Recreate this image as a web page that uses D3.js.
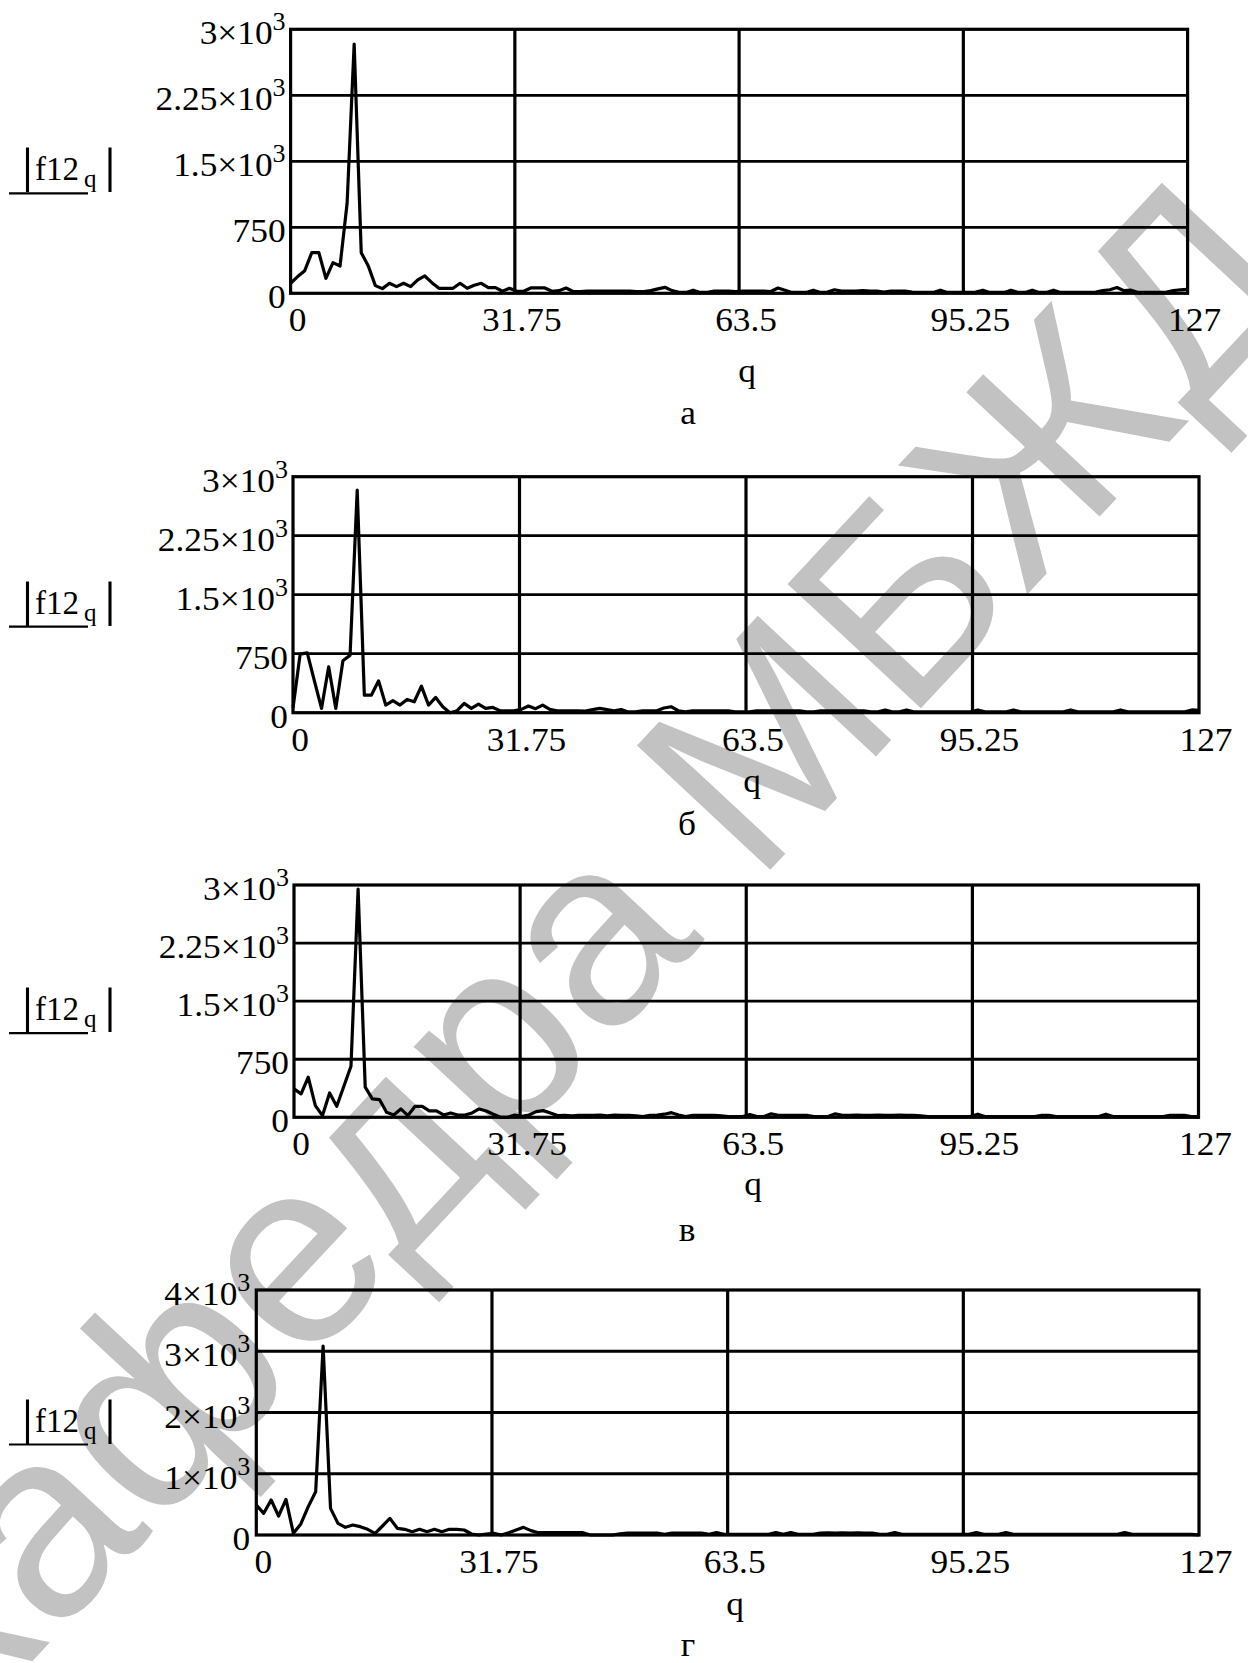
<!DOCTYPE html>
<html><head><meta charset="utf-8">
<script src="https://cdn.jsdelivr.net/npm/d3@7"></script>
<style>body{margin:0;background:#fff;} svg{display:block;}</style>
</head><body>
<svg id="c" width="1248" height="1663"></svg>
<script>
// ---------- data ----------
const qIndex = d3.range(128);
const xTicks = [0, 31.75, 63.5, 95.25, 127];
const xTickLabels = ["0", "31.75", "63.5", "95.25", "127"];
const yTicks3 = [0, 750, 1500, 2250, 3000];
const yTickLabels3 = [["0", ""], ["750", ""], ["1.5×10", "3"], ["2.25×10", "3"], ["3×10", "3"]];
const yTicks4 = [0, 1000, 2000, 3000, 4000];
const yTickLabels4 = [["0", ""], ["1×10", "3"], ["2×10", "3"], ["3×10", "3"], ["4×10", "3"]];
const captions = ["а", "б", "в", "г"];
const xTitle = "q";
const yTitleMain = "f12";
const yTitleSub = "q";

const seriesA = [
  114, 190, 257, 462, 462, 170, 348, 310, 1023, 2833,
  462, 310, 87, 53, 114, 76, 114, 76, 152, 197,
  121, 57, 57, 57, 114, 57, 91, 114, 64, 64,
  23, 57, 23, 23, 61, 61, 61, 23, 30, 60,
  20, 20, 25, 25, 25, 25, 25, 25, 25, 20,
  20, 30, 50, 68, 30, 10, 10, 35, 10, 10,
  25, 25, 25, 20, 25, 25, 25, 25, 20, 60,
  35, 10, 10, 10, 35, 10, 15, 40, 25, 25,
  25, 30, 25, 25, 15, 25, 25, 25, 15, 10,
  10, 10, 35, 10, 10, 10, 10, 15, 35, 10,
  10, 10, 35, 10, 10, 35, 10, 10, 35, 10,
  10, 10, 10, 10, 15, 30, 40, 65, 30, 35,
  10, 10, 10, 10, 15, 30, 40, 45];

const seriesB = [
  60, 744, 760, 405, 55, 583, 55, 659, 731, 2830,
  224, 224, 405, 97, 152, 97, 169, 139, 338, 97,
  194, 76, 0, 25, 118, 55, 110, 55, 68, 25,
  25, 25, 42, 85, 51, 97, 42, 25, 25, 25,
  25, 20, 40, 55, 40, 25, 40, 10, 10, 25,
  25, 25, 60, 76, 25, 10, 25, 25, 25, 25,
  25, 25, 10, 10, 10, 25, 25, 25, 25, 25,
  25, 25, 10, 10, 25, 25, 25, 25, 25, 25,
  25, 10, 10, 35, 10, 10, 35, 10, 10, 10,
  10, 10, 10, 10, 10, 10, 35, 10, 10, 10,
  10, 35, 10, 10, 10, 10, 10, 10, 10, 35,
  10, 10, 10, 10, 10, 10, 35, 10, 10, 10,
  10, 10, 10, 10, 10, 10, 35, 30];

const seriesC = [
  367, 302, 518, 151, 22, 315, 142, 401, 660, 2948,
  389, 237, 229, 65, 30, 108, 22, 142, 142, 82,
  82, 30, 56, 30, 30, 56, 108, 82, 39, 0,
  0, 30, 13, 30, 73, 86, 56, 22, 25, 20,
  25, 25, 25, 30, 20, 30, 25, 25, 20, 10,
  25, 30, 40, 60, 30, 10, 25, 25, 25, 25,
  20, 10, 10, 10, 35, 10, 10, 45, 25, 25,
  25, 25, 25, 10, 10, 10, 45, 25, 25, 30,
  25, 25, 30, 25, 25, 30, 25, 25, 20, 10,
  10, 10, 10, 10, 10, 10, 40, 10, 10, 10,
  10, 10, 10, 10, 10, 25, 25, 10, 10, 10,
  10, 10, 10, 10, 40, 10, 10, 10, 10, 10,
  10, 10, 10, 25, 25, 25, 10, 10];

const seriesD = [
  490, 354, 571, 310, 582, 27, 180, 463, 707, 3086,
  435, 190, 125, 163, 136, 93, 27, 147, 272, 109,
  93, 54, 93, 54, 93, 54, 93, 93, 82, 16,
  0, 16, 27, 0, 38, 82, 125, 71, 38, 38,
  38, 38, 38, 38, 38, 0, 0, 0, 0, 20,
  30, 30, 30, 30, 30, 10, 30, 30, 30, 30,
  30, 10, 40, 10, 10, 10, 10, 10, 10, 10,
  40, 10, 40, 10, 10, 10, 30, 35, 30, 35,
  30, 35, 30, 30, 10, 10, 40, 10, 10, 10,
  10, 10, 10, 10, 10, 10, 10, 40, 10, 10,
  10, 40, 10, 10, 10, 10, 10, 10, 10, 10,
  10, 10, 10, 10, 10, 10, 10, 40, 10, 10,
  10, 10, 10, 10, 10, 10, 10, 0];

const watermarkText = "кафедра МБЖД";

// ---------- layout ----------
const panels = [
  {values: seriesA, ymax: 3000, ticks: yTicks3, labels: yTickLabels3, caption: captions[0],
   box: {l: 290.6, t: 29.3, r: 1187.6, b: 293.3}, qPos: [747, 382], capPos: [688, 424]},
  {values: seriesB, ymax: 3000, ticks: yTicks3, labels: yTickLabels3, caption: captions[1],
   box: {l: 293, t: 476.7, r: 1199, b: 712.7}, qPos: [752, 792], capPos: [687, 835]},
  {values: seriesC, ymax: 3000, ticks: yTicks3, labels: yTickLabels3, caption: captions[2],
   box: {l: 294, t: 885, r: 1198.5, b: 1117.3}, qPos: [753, 1195], capPos: [687, 1241]},
  {values: seriesD, ymax: 4000, ticks: yTicks4, labels: yTickLabels4, caption: captions[3],
   box: {l: 256.3, t: 1290, r: 1199, b: 1535}, qPos: [735, 1615], capPos: [688, 1656]}
];

const FONT = "'Liberation Serif', 'Times New Roman', serif";
const SX = 1.04;
const svg = d3.select("#c");

// watermark (behind everything)
svg.append("text")
  .attr("transform", "translate(-30,1728) rotate(-47)")
  .attr("font-family", "'Liberation Sans', Arial, sans-serif")
  .attr("font-size", 265)
  .attr("fill", "#c2c2c2")
  .text(watermarkText);

function txt(g, x, y, s, size, anchor, sx) {
  return g.append("text")
    .attr("transform", `translate(${x},${y}) scale(${sx || SX},1)`)
    .attr("font-family", FONT)
    .attr("font-size", size)
    .attr("text-anchor", anchor || "middle")
    .attr("fill", "#000")
    .text(s);
}

panels.forEach(p => {
  const g = svg.append("g");
  const x = d3.scaleLinear().domain([0, 127]).range([p.box.l, p.box.r]);
  const y = d3.scaleLinear().domain([0, p.ymax]).range([p.box.b, p.box.t]);

  // horizontal grid
  g.selectAll(null).data(p.ticks.slice(1, -1)).enter().append("line")
    .attr("x1", p.box.l).attr("x2", p.box.r)
    .attr("y1", d => y(d)).attr("y2", d => y(d))
    .attr("stroke", "#000").attr("stroke-width", 2.8);
  // vertical grid
  g.selectAll(null).data(xTicks.slice(1, -1)).enter().append("line")
    .attr("y1", p.box.t).attr("y2", p.box.b)
    .attr("x1", d => x(d)).attr("x2", d => x(d))
    .attr("stroke", "#000").attr("stroke-width", 3.2);
  // frame
  g.append("rect")
    .attr("x", p.box.l).attr("y", p.box.t)
    .attr("width", p.box.r - p.box.l).attr("height", p.box.b - p.box.t)
    .attr("fill", "none").attr("stroke", "#000").attr("stroke-width", 3.2);

  // data line
  const line = d3.line().x((d, i) => x(qIndex[i])).y(d => y(d));
  g.append("path").datum(p.values)
    .attr("d", line)
    .attr("fill", "none").attr("stroke", "#000")
    .attr("stroke-width", 3.2).attr("stroke-linejoin", "round");

  // x tick labels
  xTicks.forEach((t, i) => txt(g, x(t) + 7, p.box.b + 38, xTickLabels[i], 34, "middle"));

  // y tick labels
  const yOff = p.ymax === 4000 ? 6 : 5;
  p.ticks.forEach((t, i) => {
    const [main, sup] = p.labels[i];
    const el = g.append("text")
      .attr("transform", `translate(${p.box.l - yOff},${y(t) + 15}) scale(${SX},1)`)
      .attr("font-family", FONT).attr("font-size", 34)
      .attr("text-anchor", "end").attr("fill", "#000");
    el.append("tspan").text(main);
    if (sup) el.append("tspan").attr("font-size", 25).attr("dy", -14).text(sup);
  });

  // y title |f12_q|
  const cy = (p.box.t + p.box.b) / 2;
  txt(g, 27.5, cy + 21, "|", 48, "middle", 1.3);
  txt(g, 35, cy + 19, yTitleMain, 33, "start", 1.0);
  txt(g, 84, cy + 26, yTitleSub, 25, "start", 1.0);
  txt(g, 110, cy + 21, "|", 48, "middle", 1.3);
  g.append("line").attr("x1", 9).attr("x2", 88)
    .attr("y1", cy + 32).attr("y2", cy + 32)
    .attr("stroke", "#000").attr("stroke-width", 2.2);

  // x title and caption
  txt(g, p.qPos[0], p.qPos[1], xTitle, 34, "middle");
  txt(g, p.capPos[0], p.capPos[1], p.caption, 34, "middle");
});
</script>
</body></html>
